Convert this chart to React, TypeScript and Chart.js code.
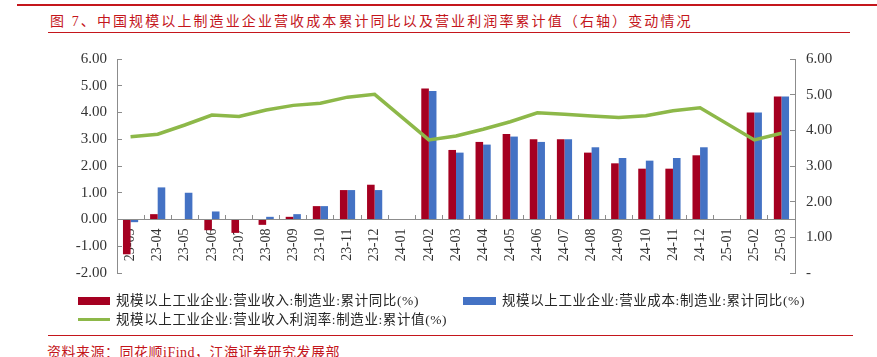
import React, { useEffect, useRef } from "react";
import { Chart, registerables } from "chart.js";

Chart.register(...registerables);

const categories = [
  "23-03", "23-04", "23-05", "23-06", "23-07", "23-08", "23-09", "23-10", "23-11", "23-12",
  "24-01", "24-02", "24-03", "24-04", "24-05", "24-06", "24-07", "24-08", "24-09", "24-10",
  "24-11", "24-12", "25-01", "25-02", "25-03",
];

const revenueYoY: (number | null)[] = [
  -1.3, 0.2, 0, -0.4, -0.5, -0.2, 0.1, 0.5, 1.1, 1.3,
  null, 4.9, 2.6, 2.9, 3.2, 3.0, 3.0, 2.5, 2.1, 1.9,
  1.9, 2.4, null, 4.0, 4.6,
];

const costYoY: (number | null)[] = [
  -0.1, 1.2, 1.0, 0.3, 0, 0.1, 0.2, 0.5, 1.1, 1.1,
  null, 4.8, 2.5, 2.8, 3.1, 2.9, 3.0, 2.7, 2.3, 2.2,
  2.3, 2.7, null, 4.0, 4.6,
];

const profitMargin: (number | null)[] = [
  3.82, 3.89, 4.15, 4.43, 4.39, 4.57, 4.70, 4.76, 4.93, 5.01,
  null, 3.73, 3.84, 4.03, 4.24, 4.49, 4.45, 4.40, 4.36, 4.41,
  4.55, 4.63, null, 3.73, 3.92,
];

const legendLabels = [
  "规模以上工业企业:营业收入:制造业:累计同比(%)",
  "规模以上工业企业:营业成本:制造业:累计同比(%)",
  "规模以上工业企业:营业收入利润率:制造业:累计值(%)",
];

const titleText = "图 7、中国规模以上制造业企业营收成本累计同比以及营业利润率累计值（右轴）变动情况";
const sourceText = "资料来源：同花顺iFind，江海证券研究发展部";

const RED = "#A50021";
const BLUE = "#4472C4";
const GREEN = "#8DB849";
const TITLE_RED = "#C4161C";
const AXIS_GRAY = "#8C8C8C";
const TICK_COLOR = "#333333";

const tickFont = { family: '"Liberation Serif", "Times New Roman", serif', size: 15 };
const xTickFont = { family: '"Liberation Serif", "Times New Roman", serif', size: 14 };

export default function App() {
  const canvasRef = useRef<HTMLCanvasElement | null>(null);

  useEffect(() => {
    if (!canvasRef.current) return;
    const chart = new Chart(canvasRef.current, {
      type: "bar",
      data: {
        labels: categories,
        datasets: [
          {
            type: "line",
            label: legendLabels[2],
            data: profitMargin,
            yAxisID: "y1",
            borderColor: GREEN,
            backgroundColor: GREEN,
            borderWidth: 3.5,
            pointRadius: 0,
            tension: 0,
            spanGaps: true,
            order: 0,
          } as any,
          {
            type: "bar",
            label: legendLabels[0],
            data: revenueYoY,
            yAxisID: "y",
            backgroundColor: RED,
            categoryPercentage: 0.56,
            barPercentage: 1.0,
            order: 1,
          },
          {
            type: "bar",
            label: legendLabels[1],
            data: costYoY,
            yAxisID: "y",
            backgroundColor: BLUE,
            categoryPercentage: 0.56,
            barPercentage: 1.0,
            order: 1,
          },
        ],
      },
      options: {
        animation: false,
        responsive: false,
        maintainAspectRatio: false,
        layout: { padding: { top: 25, bottom: 25, left: 0, right: 0 } },
        plugins: {
          legend: { display: false },
          tooltip: { enabled: false },
        },
        scales: {
          x: {
            position: { y: 0 } as any,
            offset: true,
            grid: {
              display: true,
              drawOnChartArea: false,
              drawTicks: true,
              tickLength: -5,
              color: AXIS_GRAY,
              offset: true,
            },
            border: { display: true, color: AXIS_GRAY, width: 1 },
            ticks: {
              autoSkip: false,
              minRotation: 90,
              maxRotation: 90,
              padding: 14,
              color: TICK_COLOR,
              font: xTickFont,
            },
          },
          y: {
            position: "left",
            min: -2,
            max: 6,
            afterFit: (s: any) => {
              s.width = 117;
            },
            grid: {
              display: true,
              drawOnChartArea: false,
              drawTicks: true,
              tickLength: -5,
              color: AXIS_GRAY,
            },
            border: { display: true, color: AXIS_GRAY, width: 1 },
            ticks: {
              stepSize: 1,
              padding: 15,
              color: TICK_COLOR,
              font: tickFont,
              callback: (v: any) => Number(v).toFixed(2),
            },
          },
          y1: {
            position: "right",
            min: 0,
            max: 6,
            afterFit: (s: any) => {
              s.width = 82;
            },
            grid: {
              display: true,
              drawOnChartArea: false,
              drawTicks: true,
              tickLength: -5,
              color: AXIS_GRAY,
            },
            border: { display: true, color: AXIS_GRAY, width: 1 },
            ticks: {
              stepSize: 1,
              padding: 16,
              color: TICK_COLOR,
              font: tickFont,
              callback: (v: any) => (Number(v) === 0 ? "-" : Number(v).toFixed(2)),
            },
          },
        },
      },
    });
    return () => chart.destroy();
  }, []);

  const legendText: React.CSSProperties = {
    position: "absolute",
    fontFamily: '"Liberation Serif", "Noto Sans CJK SC", serif',
    fontSize: "13.5px",
    lineHeight: "18px",
    color: "#262626",
    whiteSpace: "nowrap",
    letterSpacing: "0.6px",
  };

  return (
    <div
      style={{
        position: "absolute",
        left: 0,
        top: 0,
        width: 877,
        height: 357,
        overflow: "hidden",
        background: "#ffffff",
      }}
    >
      <div style={{ position: "absolute", left: 17, top: 4, width: 860, height: 2, background: TITLE_RED }} />
      <div
        style={{
          position: "absolute",
          left: 50,
          top: 12,
          lineHeight: "20px",
          fontSize: "14px",
          letterSpacing: "2.1px",
          fontFamily: '"Liberation Serif", "Noto Sans CJK SC", serif',
          color: TITLE_RED,
          whiteSpace: "nowrap",
        }}
      >
        {titleText}
      </div>
      <div style={{ position: "absolute", left: 48, top: 32, width: 802, height: 1, background: TITLE_RED }} />

      <canvas
        ref={canvasRef}
        width={877}
        height={264}
        style={{ position: "absolute", left: 0, top: 34, width: 877, height: 264 }}
      />

      <div style={{ position: "absolute", left: 78, top: 297, width: 32, height: 8, background: RED }} />
      <div style={{ ...legendText, left: 116, top: 292 }}>{legendLabels[0]}</div>
      <div style={{ position: "absolute", left: 463, top: 297, width: 33, height: 8, background: BLUE }} />
      <div style={{ ...legendText, left: 502, top: 292 }}>{legendLabels[1]}</div>
      <div style={{ position: "absolute", left: 78, top: 318, width: 32, height: 3, background: GREEN }} />
      <div style={{ ...legendText, left: 116, top: 311 }}>{legendLabels[2]}</div>

      <div style={{ position: "absolute", left: 48, top: 335, width: 805, height: 1, background: TITLE_RED }} />
      <div
        style={{
          position: "absolute",
          left: 47,
          top: 343,
          lineHeight: "20px",
          fontSize: "14px",
          letterSpacing: "0.5px",
          fontFamily: '"Liberation Serif", "Noto Sans CJK SC", serif',
          color: TITLE_RED,
          whiteSpace: "nowrap",
        }}
      >
        {sourceText}
      </div>
    </div>
  );
}
